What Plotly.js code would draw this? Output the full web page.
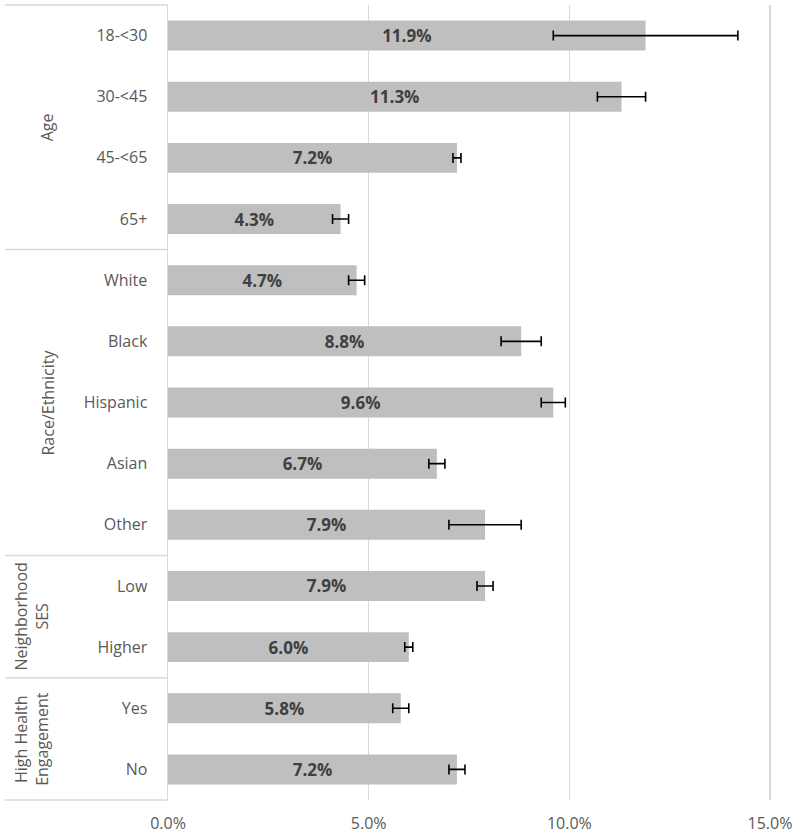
<!DOCTYPE html>
<html>
<head>
<meta charset="utf-8">
<script src="https://cdn.plot.ly/plotly-3.0.1.min.js"></script>
<style>html,body{margin:0;padding:0;background:#fff;}#chart{width:800px;height:840px;}</style>
</head>
<body>
<div id="chart"></div>
<script>
const categories = ["18-<30","30-<45","45-<65","65+","White","Black","Hispanic","Asian","Other","Low","Higher","Yes","No"];
const values = [11.9, 11.3, 7.2, 4.3, 4.7, 8.8, 9.6, 6.7, 7.9, 7.9, 6.0, 5.8, 7.2];
const ciLow  = [9.6, 10.7, 7.1, 4.1, 4.5, 8.3, 9.3, 6.5, 7.0, 7.7, 5.9, 5.6, 7.0];
const ciHigh = [14.2, 11.9, 7.3, 4.5, 4.9, 9.3, 9.9, 6.9, 8.8, 8.1, 6.1, 6.0, 7.4];
const groups = ["Age","Race/Ethnicity","Neighborhood<br>SES","High Health<br>Engagement"];
const groupSizes = [4, 5, 2, 2];
const xTicks = [0, 5, 10, 15];

const errPlus = values.map((v,i)=>+(ciHigh[i]-v).toFixed(3));
const errMinus = values.map((v,i)=>+(v-ciLow[i]).toFixed(3));

const n = categories.length;
const labelFont = {family: 'Open Sans, Noto Sans, sans-serif', size: 17, color: '#404040', weight: 'bold'};
const trace = {
  type: 'bar',
  orientation: 'h',
  y: categories,
  x: values,
  marker: {color: '#bfbfbf'},
  width: 0.49,
  text: values.map(v=>v.toFixed(1)+'%'),
  textposition: 'inside',
  insidetextanchor: 'middle',
  constraintext: 'none',
  textfont: labelFont,
  insidetextfont: labelFont,
  error_x: {type: 'data', symmetric: false, array: errPlus, arrayminus: errMinus, color: '#000', thickness: 1.6, width: 5},
  hoverinfo: 'none'
};

const XMAX = 15.1;
const L = 168, T = 5, B = 800;
const R = Math.round(L + 602 * XMAX / 15);
const pw = R - L;
const px = p => (p - L) / pw;

const shapes = [];
const annotations = [];
let start = 0;
const lineStyle = {color: '#d9d9d9', width: 1.5};
shapes.push({type:'line', xref:'paper', yref:'paper', x0:px(5), x1:0, y0:1, y1:1, line: lineStyle});
groups.forEach((g, gi) => {
  const end = start + groupSizes[gi];
  const yb = 1 - end / n;
  shapes.push({type:'line', xref:'paper', yref:'paper', x0:px(5), x1:0, y0:yb, y1:yb, line: lineStyle});
  const yc = 1 - (start + end) / 2 / n;
  annotations.push({
    xref:'paper', yref:'paper', x: px(47), y: yc, xanchor:'center', yanchor:'middle',
    text: g, textangle: -90, showarrow: false,
    font: {family: 'Open Sans, Noto Sans, sans-serif', size: 16, color: '#595959'}
  });
  start = end;
});
annotations[2].x = px(32); annotations[3].x = px(32);

const layout = {
  width: 800, height: 840,
  margin: {l: L, r: 800 - R, t: T, b: 840 - B},
  paper_bgcolor: '#fff', plot_bgcolor: '#fff',
  showlegend: false,
  font: {family: 'Open Sans, Noto Sans, sans-serif', color: '#595959'},
  xaxis: {
    range: [0, XMAX], tickvals: xTicks, ticktext: xTicks.map(t=>t.toFixed(1)+'%'),
    showgrid: true, gridcolor: '#d9d9d9', gridwidth: 1.5, zeroline: false, showline: false,
    tickfont: {size: 16, color: '#595959'}, ticks: '', ticklabelstandoff: 12
  },
  yaxis: {
    type: 'category', categoryorder: 'array', categoryarray: categories,
    autorange: 'reversed', showgrid: false, zeroline: false,
    showline: true, linecolor: '#d9d9d9', linewidth: 1.5,
    ticks: '', tickfont: {size: 16, color: '#595959'}, ticklabelstandoff: 16
  },
  shapes: shapes,
  annotations: annotations
};

Plotly.newPlot('chart', [trace], layout, {staticPlot: true});
</script>
</body>
</html>
